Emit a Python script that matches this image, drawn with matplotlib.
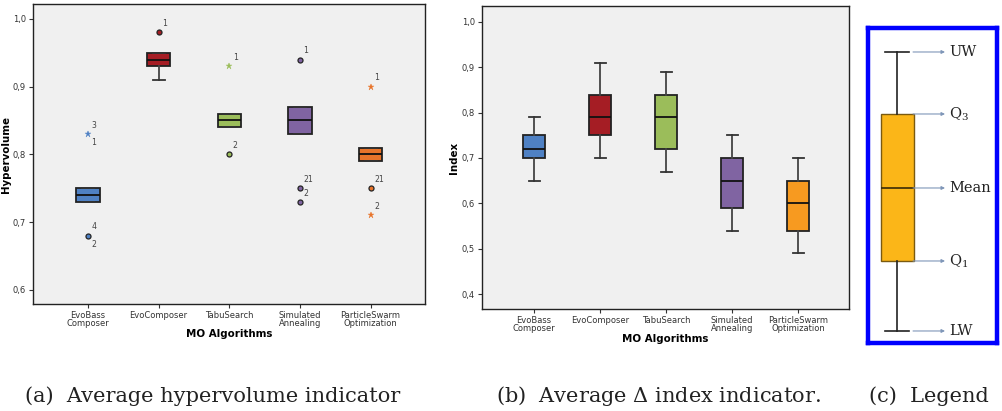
import numpy as np
import matplotlib
matplotlib.use("Agg")
import matplotlib.pyplot as plt

plt.rcParams["mathtext.fontset"] = "dejavuserif"

# ===== data =====
algos = ["EvoBass\nComposer", "EvoComposer", "TabuSearch", "Simulated\nAnnealing", "ParticleSwarm\nOptimization"]

# (a) hypervolume: lower whisker, Q1, median, Q3, upper whisker
hv_lw = [0.73, 0.91, 0.84, 0.83, 0.79]
hv_q1 = [0.73, 0.93, 0.84, 0.83, 0.79]
hv_med = [0.74, 0.94, 0.85, 0.85, 0.80]
hv_q3 = [0.75, 0.95, 0.86, 0.87, 0.81]
hv_uw = [0.75, 0.95, 0.86, 0.87, 0.81]

# outliers of (a)
out_cat = [0, 0, 1, 2, 2, 3, 3, 3, 4, 4, 4]
out_val = [0.83, 0.68, 0.98, 0.93, 0.80, 0.94, 0.75, 0.73, 0.90, 0.75, 0.71]
out_star = [True, False, False, True, False, False, False, False, True, False, True]
out_lab = ["3", "4", "1", "1", "2", "1", "21", "2", "1", "21", "2"]
out_lab2 = ["1", "2", "", "", "", "", "", "", "", "", ""]

# (b) delta index
di_lw = [0.65, 0.70, 0.67, 0.54, 0.49]
di_q1 = [0.70, 0.75, 0.72, 0.59, 0.54]
di_med = [0.72, 0.79, 0.79, 0.65, 0.60]
di_q3 = [0.75, 0.84, 0.84, 0.70, 0.65]
di_uw = [0.79, 0.91, 0.89, 0.75, 0.70]

colors_a = ["#4f81c4", "#a51d24", "#9bbd5a", "#8064a2", "#e8742a"]
colors_b = ["#4f81c4", "#a51d24", "#9bbd5a", "#8064a2", "#f79a20"]

# legend box (arbitrary units)
leg_stats = [0, 70, 143, 217, 279]
leg_names = ["LW", "Q$_1$", "Mean", "Q$_3$", "UW"]

BG = "#f0f0f0"
EDGE = "#222222"


def make_stats(lw, q1, med, q3, uw):
    return [dict(whislo=a, q1=b, med=c, q3=d, whishi=e, fliers=[])
            for a, b, c, d, e in zip(lw, q1, med, q3, uw)]


def draw_box(ax, stats, colors):
    bp = ax.bxp(stats, positions=range(len(stats)), widths=0.33, patch_artist=True,
                showfliers=False,
                boxprops=dict(edgecolor=EDGE, linewidth=1.3),
                medianprops=dict(color="#111111", linewidth=1.3),
                whiskerprops=dict(color="#444444", linewidth=1.3),
                capprops=dict(color="#333333", linewidth=1.3),
                capwidths=0.17)
    for p, c in zip(bp["boxes"], colors):
        p.set_facecolor(c)
    return bp


def style_ax(ax, ylabel, labelpad):
    ax.set_facecolor(BG)
    for s in ax.spines.values():
        s.set_color("#222222")
        s.set_linewidth(1.0)
    ax.set_xticks(range(5))
    ax.set_xticklabels(algos, fontsize=6.0, color="#333333", linespacing=0.85)
    ax.tick_params(axis="both", length=3, width=0.8, colors="#333333", labelsize=6.0, pad=2)
    ax.set_xlabel("MO Algorithms", fontsize=7.4, fontweight="bold", labelpad=1)
    ax.set_ylabel(ylabel, fontsize=7.4, fontweight="bold", labelpad=labelpad)
    ax.yaxis.set_major_formatter(matplotlib.ticker.FuncFormatter(lambda v, p: f"{v:.1f}".replace(".", ",")))


fig = plt.figure(figsize=(10.02, 4.11), dpi=100)

# ===== (a) =====
ax1 = fig.add_axes([0.0329, 0.2603, 0.3912, 0.730])
draw_box(ax1, make_stats(hv_lw, hv_q1, hv_med, hv_q3, hv_uw), colors_a)
for c, v, st, l1, l2 in zip(out_cat, out_val, out_star, out_lab, out_lab2):
    col = colors_a[c]
    if st:
        ax1.plot(c, v, marker="*", ms=5, color=col, mec=col, mew=0.3, zorder=4)
    else:
        ax1.plot(c, v, marker="o", ms=3.6, color=col, mec="#222222", mew=0.9, zorder=4)
    ax1.annotate(l1, (c, v), xytext=(2.5, 3), textcoords="offset points",
                 fontsize=5.6, color="#444444", ha="left", va="bottom")
    if l2:
        ax1.annotate(l2, (c, v), xytext=(2.5, -3), textcoords="offset points",
                     fontsize=5.6, color="#444444", ha="left", va="top")
ax1.set_xlim(-0.78, 4.77)
ax1.set_ylim(0.579, 1.022)
ax1.set_yticks([0.6, 0.7, 0.8, 0.9, 1.0])
style_ax(ax1, "Hypervolume", 1)

# ===== (b) =====
ax2 = fig.add_axes([0.481, 0.2482, 0.3663, 0.737])
draw_box(ax2, make_stats(di_lw, di_q1, di_med, di_q3, di_uw), colors_b)
ax2.set_xlim(-0.79, 4.77)
ax2.set_ylim(0.367, 1.035)
ax2.set_yticks([0.4, 0.5, 0.6, 0.7, 0.8, 0.9, 1.0])
style_ax(ax2, "Index", 2)

# ===== (c) legend =====
ax3 = fig.add_axes([0.8663, 0.1655, 0.1287, 0.7664])
ax3.bxp([dict(whislo=leg_stats[0], q1=leg_stats[1], med=leg_stats[2], q3=leg_stats[3],
              whishi=leg_stats[4], fliers=[])],
        positions=[0], widths=0.256, patch_artist=True, showfliers=False,
        boxprops=dict(facecolor="#fbb618", edgecolor="#7a5a10", linewidth=1.0),
        medianprops=dict(color="#3a2a05", linewidth=1.2),
        whiskerprops=dict(color="#222222", linewidth=1.2),
        capprops=dict(color="#222222", linewidth=1.2), capwidths=0.186)
for v, name in zip(leg_stats, leg_names):
    ax3.annotate("", xy=(0.372, v), xytext=(0.124, v),
                 arrowprops=dict(arrowstyle="-|>", color="#7f96b8", lw=0.8,
                                 mutation_scale=5, shrinkA=0, shrinkB=0))
    ax3.text(0.405, v, name, fontsize=10.5, family="DejaVu Serif", color="#222222",
             ha="left", va="center")
ax3.set_xlim(-0.225, 0.775)
ax3.set_ylim(-12, 303)
ax3.set_xticks([])
ax3.set_yticks([])
for s in ax3.spines.values():
    s.set_color("#0000ff")
    s.set_linewidth(3.2)

# ===== captions =====
cap = dict(fontsize=15, family="DejaVu Serif", color="#222222", ha="center", va="baseline")
fig.text(213 / 1002, 1 - 402 / 411, "(a)  Average hypervolume indicator", **cap)
fig.text(658 / 1002, 1 - 402 / 411, "(b)  Average $\\Delta$ index indicator.", **cap)
fig.text(929 / 1002, 1 - 402 / 411, "(c)  Legend", **cap)

fig.savefig("out.png", dpi=100, facecolor="white")
